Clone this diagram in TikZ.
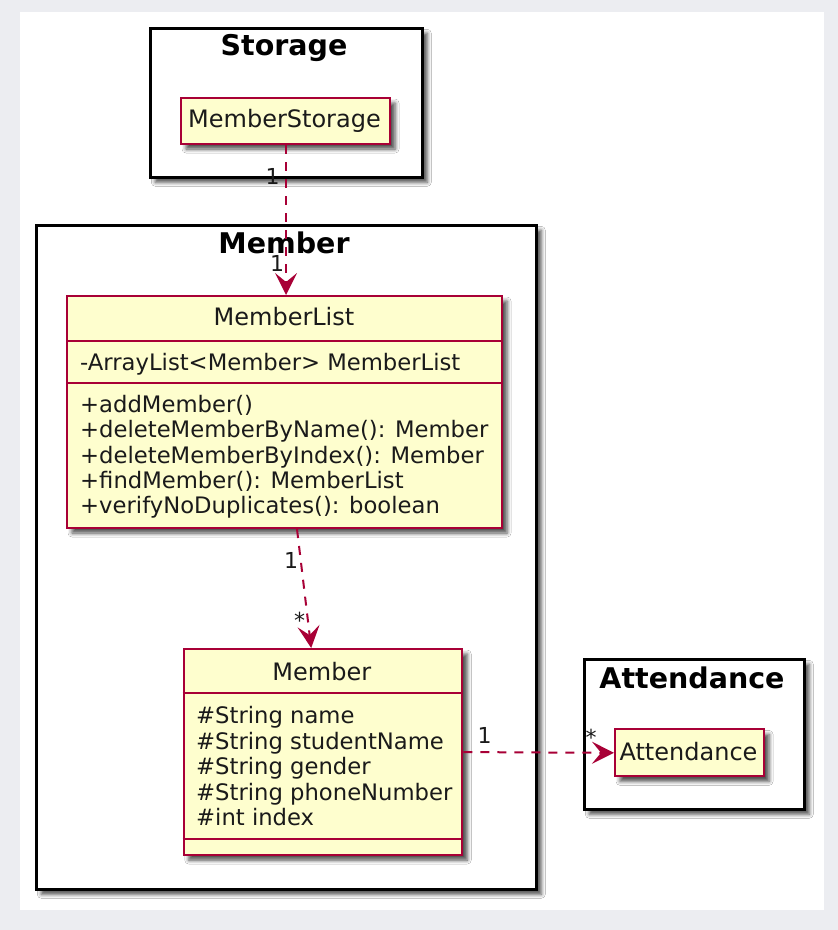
\documentclass[tikz,border=0pt]{standalone}
\usepackage{fontspec}
\setmainfont{DejaVu Sans}
\usetikzlibrary{arrows.meta,calc,shadows.blur}
\definecolor{bggray}{HTML}{ECEDF1}
\definecolor{cfill}{HTML}{FEFECE}
\definecolor{cline}{HTML}{A80036}
\definecolor{txtc}{HTML}{1A1A1A}
\tikzset{
  shad/.style={blur shadow={shadow xshift=5pt, shadow yshift=-5pt, shadow blur radius=4pt, shadow opacity=70}},
  pkg/.style={draw=black, line width=2.6pt, fill=white, shad, inner sep=0pt},
  cls/.style={draw=cline, line width=2.1pt, fill=cfill, shad, inner sep=0pt},
  sepline/.style={draw=cline, line width=2.1pt},
  ttl/.style={font=\fontsize{28.5}{34}\selectfont\bfseries, anchor=base, inner sep=0pt},
  cname/.style={font=\fontsize{24}{28}\selectfont, text=txtc, anchor=base, inner sep=0pt},
  attr/.style={font=\fontsize{22.7}{26}\selectfont, text=txtc, anchor=base west, inner sep=0pt},
  lbl/.style={font=\fontsize{22}{26}\selectfont, text=txtc, anchor=base, inner sep=0pt},
  dep/.style={draw=cline, line width=2pt, dash pattern=on 9pt off 8pt,
    -{Stealth[length=22pt, width=22pt, inset=9pt]}}
}
\begin{document}
\begin{tikzpicture}[x=1pt,y=-1pt]
\useasboundingbox (0,0) rectangle (838,930);
\fill[bggray] (0,0) rectangle (838,930);
\fill[white] (20,12) rectangle (824,910);

% packages
\node[pkg, minimum width=272, minimum height=149, anchor=north west] (pstor) at (149,27) {};
\node[ttl] (tstor) at (284,55.5) {Storage};
\node[pkg, minimum width=500, minimum height=664, anchor=north west] (pmem) at (35,224) {};
\node[ttl] (tmem) at (284,253) {Member};
\node[pkg, minimum width=220, minimum height=150, anchor=north west] (patt) at (583,658) {};
\node[ttl] (tatt) at (692,688.3) {Attendance};

% MemberStorage
\node[cls, minimum width=209, minimum height=46, anchor=north west] (ms) at (180,97) {};
\node[cname] (tms) at (284.5,127) {MemberStorage};

% MemberList
\node[cls, minimum width=435, minimum height=232, anchor=north west] (ml) at (66,295) {};
\draw[sepline] (ml.west |- 0,341) -- (ml.east |- 0,341);
\draw[sepline] (ml.west |- 0,382.7) -- (ml.east |- 0,382.7);
\node[cname] (tml) at (284,325.7) {MemberList};
\node[attr] (mla) at (80,370.7) {-ArrayList<Member> MemberList};
\node[attr] (mm1) at (80,412.7) {+addMember()};
\node[attr] (mm2) at (80,437.9) {+deleteMemberByName(): Member};
\node[attr] (mm3) at (80,463.1) {+deleteMemberByIndex(): Member};
\node[attr] (mm4) at (80,488.3) {+findMember(): MemberList};
\node[attr] (mm5) at (80,513.5) {+verifyNoDuplicates(): boolean};

% Member
\node[cls, minimum width=278.5, minimum height=206, anchor=north west] (mb) at (182.7,648) {};
\draw[sepline] (mb.west |- 0,693.3) -- (mb.east |- 0,693.3);
\draw[sepline] (mb.west |- 0,839) -- (mb.east |- 0,839);
\node[cname] (tmb) at (321.8,680) {Member};
\node[attr] (ma1) at (196,723.5) {\#String name};
\node[attr] (ma2) at (196,749.1) {\#String studentName};
\node[attr] (ma3) at (196,774.7) {\#String gender};
\node[attr] (ma4) at (196,800.3) {\#String phoneNumber};
\node[attr] (ma5) at (196,825.9) {\#int index};

% Attendance
\node[cls, minimum width=149, minimum height=47, anchor=north west] (att) at (614,728.3) {};
\node[cname] (tattc) at (688.5,760) {Attendance};

% connectors
\draw[dep] ($(ms.south)+(0.5,0)$) -- ($(ml.north)+(1.5,0)$);
\node[lbl] (l1a) at (272.5,184) {1};
\node[lbl] (l1b) at (277,271.5) {1};

\draw[dep] ($(ml.south west)+(231,0)$) -- ($(mb.north west)+(128.5,0)$);
\node[lbl] (l2a) at (291,568) {1};
\node[lbl] (l2b) at (299.5,628) {*};

\draw[dep] (mb.east) -- (att.west);
\node[lbl] (l3a) at (484.7,743) {1};
\node[lbl] (l3b) at (591,745) {*};
\end{tikzpicture}
\end{document}
